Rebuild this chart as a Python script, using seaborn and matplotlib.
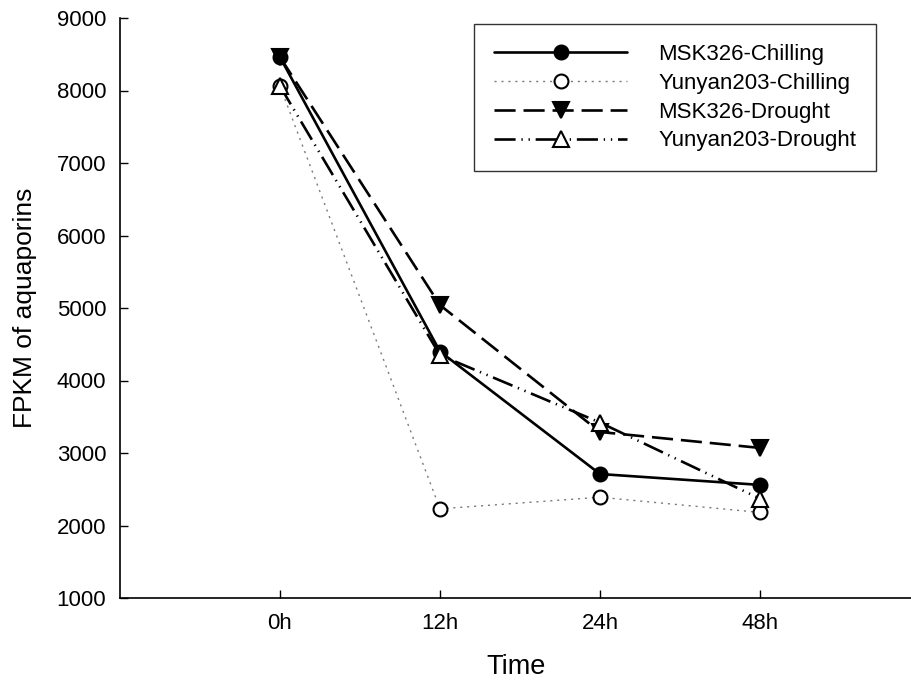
import pandas as pd
import seaborn as sns
import matplotlib.pyplot as plt

# Time points and FPKM values
times = ['0h', '12h', '24h', '48h']
msk326_chilling = [8460, 4400, 2710, 2560]
yunyan203_chilling = [8060, 2230, 2390, 2180]
msk326_drought = [8460, 5040, 3290, 3070]
yunyan203_drought = [8060, 4350, 3420, 2370]

series = [
    ('MSK326-Chilling', msk326_chilling),
    ('Yunyan203-Chilling', yunyan203_chilling),
    ('MSK326-Drought', msk326_drought),
    ('Yunyan203-Drought', yunyan203_drought),
]

# line / marker look for each series
styles = {
    'MSK326-Chilling': dict(color='black', linewidth=1.9, linestyle='-',
                            marker='o', markersize=10, markerfacecolor='black',
                            markeredgecolor='black'),
    'Yunyan203-Chilling': dict(color='#7a7a7a', linewidth=1.0, linestyle=(0, (1.5, 3.5)),
                               marker='o', markersize=10, markerfacecolor='white',
                               markeredgecolor='black'),
    'MSK326-Drought': dict(color='black', linewidth=1.9, linestyle=(0, (8, 3)),
                           marker='v', markersize=11, markerfacecolor='black',
                           markeredgecolor='black'),
    'Yunyan203-Drought': dict(color='black', linewidth=1.9,
                              linestyle=(0, (8, 2.2, 0.5, 2.2, 0.5, 2.2)),
                              marker='^', markersize=11, markerfacecolor='white',
                              markeredgecolor='black'),
}

sns.set_style('ticks')
plt.rcParams['font.family'] = ['Liberation Sans', 'DejaVu Sans']
plt.rcParams.update({'text.color': 'black', 'axes.labelcolor': 'black',
                     'xtick.color': 'black', 'ytick.color': 'black',
                     'axes.edgecolor': 'black'})

fig = plt.figure(figsize=(9.12, 6.84), dpi=100)
ax = fig.add_axes([120 / 912, 86 / 684, 792 / 912, 580 / 684])

for name, vals in series:
    df = pd.DataFrame({'Time': times, 'FPKM': vals})
    sns.lineplot(data=df, x='Time', y='FPKM', sort=False, ax=ax,
                 label=name, markeredgewidth=1.5, **styles[name])

ax.set_xlim(-1, 3.95)
ax.set_ylim(1000, 9000)
ax.set_yticks(range(1000, 9001, 1000))

for side in ['top', 'right']:
    ax.spines[side].set_visible(False)
for side in ['left', 'bottom']:
    ax.spines[side].set_linewidth(1.2)

ax.tick_params(axis='y', direction='in', length=6, width=1, labelsize=16, pad=10)
ax.tick_params(axis='x', direction='in', length=6, width=1, labelsize=16, pad=11)

ax.set_xlabel('Time', fontsize=19.5, labelpad=14)
ax.set_ylabel('FPKM of aquaporins', fontsize=19, labelpad=14)

leg = ax.legend(loc='upper left', bbox_to_anchor=(474 / 912, 1 - 24 / 684),
                bbox_transform=fig.transFigure, fontsize=16, frameon=True,
                fancybox=False, edgecolor='black', handlelength=6.0,
                handletextpad=1.4, labelspacing=0.35, borderpad=0.9,
                borderaxespad=0)
leg.get_frame().set_linewidth(1.0)

fig.savefig('out.png', dpi=100)
